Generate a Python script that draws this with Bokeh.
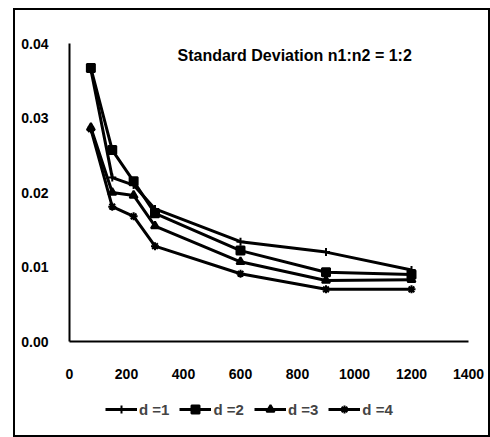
from bokeh.plotting import figure
from bokeh.layouts import column
from bokeh.models import Label, Legend, LegendItem, FixedTicker, Range1d, InlineStyleSheet
from bokeh.embed import file_html
from bokeh.resources import INLINE

# data
sample_size = [75, 150, 225, 300, 600, 900, 1200]
d1 = [0.0365, 0.0220, 0.0210, 0.0178, 0.0134, 0.0120, 0.0096]
d2 = [0.0367, 0.0257, 0.0215, 0.0172, 0.0122, 0.0093, 0.0090]
d3 = [0.0287, 0.0200, 0.0196, 0.0155, 0.0107, 0.0082, 0.0083]
d4 = [0.0285, 0.0181, 0.0168, 0.0128, 0.0091, 0.0070, 0.0070]
series_names = ["d =1", "d =2", "d =3", "d =4"]
x_ticks = [0, 200, 400, 600, 800, 1000, 1200, 1400]
y_ticks = [0.0, 0.01, 0.02, 0.03, 0.04]
y_tick_labels = {0.0: "0.00", 0.01: "0.01", 0.02: "0.02", 0.03: "0.03", 0.04: "0.04"}
title_text = "Standard Deviation n1:n2 = 1:2"

FONT = "Liberation Sans"
markers = ["cross", "square", "triangle", "asterisk"]
series = [d1, d2, d3, d4]

p = figure(width=473, height=380, output_backend="svg", toolbar_location=None,
           x_range=Range1d(0, 1400), y_range=Range1d(0, 0.04),
           min_border_left=54, min_border_top=33, min_border_right=20, min_border_bottom=49)
p.outline_line_color = None
p.grid.grid_line_color = None

for ax in (p.xaxis[0], p.yaxis[0]):
    ax.axis_line_color = "black"
    ax.axis_line_width = 2
    ax.major_tick_line_color = None
    ax.minor_tick_line_color = None
    ax.major_label_text_font = FONT
    ax.major_label_text_font_style = "bold"
    ax.major_label_text_font_size = "14px"
    ax.major_label_text_color = "black"

p.xaxis.ticker = FixedTicker(ticks=x_ticks)
p.yaxis.ticker = FixedTicker(ticks=y_ticks)
p.yaxis.major_label_overrides = y_tick_labels
p.xaxis.major_label_standoff = 21
p.yaxis.major_label_standoff = 15

for ys, m in zip(series, markers):
    p.line(sample_size, ys, line_color="black", line_width=3)
    p.scatter(sample_size, ys, marker=m, size=8, line_color="black",
              fill_color="black", line_width=2)

p.add_layout(Label(x=790, y=0.0384, text=title_text, text_align="center",
                   text_baseline="middle", text_font=FONT, text_font_style="bold",
                   text_font_size="16px", text_color="black"))

# legend strip below the chart
lg = figure(width=473, height=45, output_backend="svg", toolbar_location=None,
            x_range=Range1d(-10, -5), y_range=Range1d(-10, -5),
            min_border_left=0, min_border_right=0, min_border_top=0, min_border_bottom=0)
lg.axis.visible = False
lg.grid.grid_line_color = None
lg.outline_line_color = None
items = []
for name, ys, m in zip(series_names, series, markers):
    r1 = lg.line(sample_size, ys, line_color="black", line_width=3)
    r2 = lg.scatter(sample_size, ys, marker=m, size=8, line_color="black",
                    fill_color="black", line_width=2)
    items.append(LegendItem(label=name, renderers=[r1, r2]))
legend = Legend(items=items, orientation="horizontal", location=(36, 16),
                label_text_font=FONT, label_text_font_style="bold",
                label_text_font_size="15px", border_line_color=None,
                background_fill_alpha=0, spacing=10, glyph_width=32,
                label_standoff=2, padding=0, margin=0)
lg.add_layout(legend)

css = InlineStyleSheet(css=":host { border: 2px solid black; margin: 8px 0 0 13px; }")
layout = column(p, lg, stylesheets=[css])

open("out.html", "w").write(file_html(layout, INLINE))
